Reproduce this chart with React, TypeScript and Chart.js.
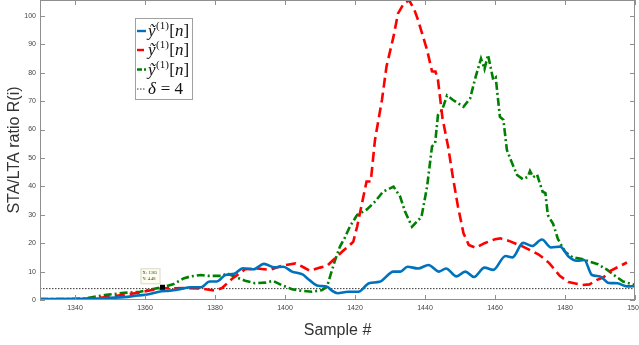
import React, { useEffect, useRef } from 'react';
import { Chart, registerables } from 'chart.js';

Chart.register(...registerables);

// ---------- data ----------
const X_TICKS = [1340, 1360, 1380, 1400, 1420, 1440, 1460, 1480, 1500];
const Y_TICKS = [0, 10, 20, 30, 40, 50, 60, 70, 80, 90, 100];
const X_MIN = 1330;
const X_MAX = 1500;
const Y_MIN = 0;
const Y_MAX = 105.6;

const BLUE_SAMPLES = [1330, 1340, 1348, 1354, 1358, 1361, 1364, 1367, 1370, 1373, 1376, 1378.5, 1380.5, 1383, 1385.5, 1388, 1391, 1394, 1397, 1399.5, 1402, 1405, 1407, 1409.5, 1412, 1413.5, 1415, 1418, 1421, 1424, 1427, 1431, 1433, 1435, 1438, 1441, 1444, 1446, 1449, 1451.5, 1454, 1457, 1459.5, 1463, 1465, 1468, 1470.6, 1473.4, 1476, 1478.6, 1481, 1483.4, 1485.5, 1487.7, 1490, 1492.5, 1495, 1497.7, 1500];
const BLUE_VALUES = [0.3, 0.4, 0.6, 1.0, 1.6, 2.0, 2.9, 3.3, 3.8, 4.5, 4.5, 6.5, 6.5, 8.8, 9.2, 11.2, 10.8, 12.7, 11.5, 11.7, 10.0, 9.0, 7.0, 5.0, 4.7, 3.2, 2.4, 2.9, 2.9, 5.9, 6.4, 10.0, 10.0, 11.7, 11.1, 12.3, 10.0, 11.1, 8.3, 10.0, 8.1, 11.4, 10.6, 15.5, 15.0, 20.1, 19.0, 21.3, 18.5, 18.8, 15.3, 13.8, 14.1, 8.8, 8.3, 6.0, 5.9, 4.8, 4.9];

const RED_SAMPLES = [1330, 1342, 1349, 1354, 1358, 1362, 1365, 1368, 1372, 1376, 1380, 1382, 1385, 1388.6, 1392, 1395.7, 1399, 1403, 1405, 1407, 1410, 1412, 1413.7, 1416.3, 1418, 1419.5, 1420.6, 1423.3, 1424.5, 1425.7, 1427.7, 1429, 1431, 1432.3, 1434, 1435.5, 1437, 1438, 1440.6, 1442, 1443, 1443.7, 1445, 1446.6, 1448, 1449.4, 1451, 1452.5, 1454.5, 1457, 1460, 1461.5, 1464, 1468, 1472.5, 1475.5, 1478.5, 1481, 1485, 1487, 1489, 1491, 1493, 1497.7];
const RED_VALUES = [0.2, 0.3, 1.0, 1.8, 2.5, 3.5, 4.2, 4.1, 4.2, 4.0, 3.3, 4.2, 7.6, 10.8, 11.1, 10.6, 12.0, 12.9, 11.7, 10.3, 11.4, 12.0, 14.0, 17.0, 18.8, 20.5, 25.8, 41.7, 41.7, 56.3, 70.4, 82.2, 92.7, 100.9, 104.5, 105.5, 102, 98.6, 88, 80.5, 80.4, 77.5, 64, 54, 43, 33, 23.5, 19.4, 18.4, 20, 21.4, 21.7, 20.8, 18.8, 16.0, 13, 8.5, 6.3, 5.3, 5.5, 7, 8, 10.3, 13.2];

const GREEN_SAMPLES = [1330, 1342, 1344, 1349, 1354, 1358.6, 1362, 1365, 1368, 1371, 1373, 1376, 1378, 1382, 1383.4, 1385.7, 1388.6, 1391.4, 1394.3, 1396.6, 1399, 1402, 1405, 1407.7, 1410.6, 1412, 1413, 1414.3, 1415.7, 1417, 1418.6, 1420.6, 1423.4, 1425.7, 1428, 1431, 1432.9, 1434.3, 1436.3, 1439, 1440.6, 1442, 1442.9, 1443.7, 1444.9, 1446.3, 1448, 1449.4, 1451, 1452.9, 1454.3, 1456, 1457, 1458, 1459.5, 1460.2, 1461.4, 1462.4, 1463.4, 1464.9, 1466.3, 1468, 1469.4, 1470, 1470.9, 1472, 1473.6, 1474.4, 1475.1, 1476.6, 1478, 1480, 1482.2, 1484.9, 1487, 1489.4, 1492, 1494.3, 1496.6, 1500];
const GREEN_VALUES = [0.3, 0.4, 0.8, 1.8, 2.5, 2.9, 3.8, 4.5, 5.5, 7.6, 8.3, 8.8, 8.5, 8.5, 9.4, 8.2, 6.8, 5.9, 6.1, 6.7, 5.3, 3.8, 3.2, 2.9, 3.5, 4.7, 8.8, 14, 18.8, 21.7, 26.0, 29.9, 31.9, 34.6, 38.1, 39.9, 36.4, 31.1, 25.8, 29.3, 39.9, 54, 55.2, 65.1, 66.9, 72, 70.4, 69.3, 68, 71, 77.8, 85, 81.3, 86.3, 77.5, 78.3, 64.5, 63.4, 52.8, 48.1, 44, 42.5, 43.4, 45.4, 43.2, 44.2, 38.1, 37.6, 29.9, 26.8, 21.4, 17, 15, 14.4, 13.5, 12.6, 10.7, 8.5, 6.5, 5.3];

const THRESHOLD_SAMPLES = [1330, 1500];
const THRESHOLD_VALUE = 4;

const TIP_X = 1365;
const TIP_Y = 4.48;

const Y_TITLE = 'STA/LTA ratio R(i)';
const X_TITLE = 'Sample #';

// legend labels: base, superscript, bracket content
const LEGEND_LABELS = [
  { base: 'ỹ', sup: '(1)', arg: 'n' },
  { base: 'ỹ', sup: '(1)', arg: 'n' },
  { base: 'ỹ', sup: '(1)', arg: 'n' },
  { base: 'δ', sup: '', arg: '' },
];
const THRESHOLD_LABEL_REST = ' = 4';

// ---------- styles ----------
const COLORS = ['#0072BD', '#FF0000', '#008000', '#333333'];
const DASHES: number[][] = [[], [10, 5], [8, 3, 2, 3], [1.5, 1.5]];
const WIDTHS = [2.6, 2.6, 2.6, 1];

const toPoints = (xs: number[], ys: number[]) => xs.map((x, i) => ({ x, y: ys[i] }));

const zeroPad = (s: any) => {
  s.paddingTop = 0;
  s.paddingBottom = 0;
  s.paddingLeft = 0;
  s.paddingRight = 0;
};

const framePlugin = {
  id: 'frame',
  afterDatasetsDraw(chart: any) {
    const { ctx, chartArea, scales } = chart;
    const { left, right, top, bottom } = chartArea;
    const xs = scales.x;
    const ys = scales.y;
    ctx.save();
    // box
    ctx.strokeStyle = '#8f8f8f';
    ctx.lineWidth = 1;
    ctx.setLineDash([]);
    ctx.strokeRect(left + 0.5, top + 0.5, right - left - 1, bottom - top - 1);
    ctx.beginPath();
    X_TICKS.forEach((v) => {
      const px = Math.round(xs.getPixelForValue(v)) + 0.5;
      ctx.moveTo(px, bottom);
      ctx.lineTo(px, bottom - 5);
      ctx.moveTo(px, top);
      ctx.lineTo(px, top + 5);
    });
    Y_TICKS.forEach((v) => {
      const py = Math.round(ys.getPixelForValue(v)) + 0.5;
      ctx.moveTo(left, py);
      ctx.lineTo(left + 5, py);
      ctx.moveTo(right, py);
      ctx.lineTo(right - 5, py);
    });
    ctx.stroke();

    // data tip
    const tx = xs.getPixelForValue(TIP_X);
    const ty = ys.getPixelForValue(TIP_Y);
    ctx.fillStyle = '#000';
    ctx.fillRect(tx - 2.5, ty - 2.5, 5, 5);
    const bx = tx - 22;
    const by = ty - 19;
    ctx.fillStyle = '#fffff0';
    ctx.fillRect(bx, by, 19, 15);
    ctx.strokeStyle = '#d8d8c8';
    ctx.strokeRect(bx + 0.5, by + 0.5, 19, 15);
    ctx.fillStyle = '#333';
    ctx.font = '4.5px "Liberation Serif"';
    ctx.textBaseline = 'middle';
    ctx.textAlign = 'left';
    ctx.fillText('X: ' + TIP_X, bx + 2, by + 5);
    ctx.fillText('Y: ' + TIP_Y.toFixed(2), bx + 2, by + 11);

    // legend
    const lx = 135;
    const ly = 18;
    const lw = 57;
    const lh = 81;
    ctx.fillStyle = '#ffffff';
    ctx.fillRect(lx, ly, lw, lh);
    ctx.strokeStyle = '#a0a0a0';
    ctx.lineWidth = 1;
    ctx.strokeRect(lx + 0.5, ly + 0.5, lw, lh);
    const rowY = [31, 50, 69.5, 89];
    LEGEND_LABELS.forEach((lab, i) => {
      const y = rowY[i];
      ctx.save();
      ctx.strokeStyle = COLORS[i];
      ctx.lineWidth = i === 3 ? 1 : 2.4;
      ctx.setLineDash(i === 1 ? [7, 5] : i === 2 ? [5, 2, 2, 2] : DASHES[i]);
      ctx.beginPath();
      ctx.moveTo(lx + 2, y);
      ctx.lineTo(lx + 11, y);
      ctx.stroke();
      ctx.restore();
      ctx.fillStyle = '#111';
      ctx.textBaseline = 'alphabetic';
      let cx = lx + 13;
      const base = y + 5;
      ctx.font = 'italic 17px "Liberation Serif"';
      ctx.fillText(lab.base, cx, base);
      cx += ctx.measureText(lab.base).width + 0.5;
      if (lab.sup) {
        ctx.font = '11px "Liberation Serif"';
        ctx.fillText(lab.sup, cx, base - 7);
        cx += ctx.measureText(lab.sup).width + 0.5;
        ctx.font = '17px "Liberation Serif"';
        ctx.fillText('[', cx, base);
        cx += ctx.measureText('[').width;
        ctx.font = 'italic 17px "Liberation Serif"';
        ctx.fillText(lab.arg, cx, base);
        cx += ctx.measureText(lab.arg).width;
        ctx.font = '17px "Liberation Serif"';
        ctx.fillText(']', cx, base);
      } else {
        ctx.font = '17px "Liberation Serif"';
        ctx.fillText(THRESHOLD_LABEL_REST, cx, base);
      }
    });
    ctx.restore();
  },
};

export default function App() {
  const canvasRef = useRef<HTMLCanvasElement | null>(null);

  useEffect(() => {
    const canvas = canvasRef.current;
    if (!canvas) return;
    const seriesX = [BLUE_SAMPLES, RED_SAMPLES, GREEN_SAMPLES, THRESHOLD_SAMPLES];
    const seriesY = [BLUE_VALUES, RED_VALUES, GREEN_VALUES, THRESHOLD_SAMPLES.map(() => THRESHOLD_VALUE)];
    const chart = new Chart(canvas, {
      type: 'line',
      data: {
        datasets: seriesX.map((xs, i) => ({
          data: toPoints(xs, seriesY[i]),
          borderColor: COLORS[i],
          borderWidth: WIDTHS[i],
          borderDash: DASHES[i],
          pointRadius: 0,
          fill: false,
          tension: i === 0 ? 0.35 : 0,
          cubicInterpolationMode: i === 0 ? 'monotone' : 'default',
        })) as any,
      },
      options: {
        responsive: false,
        animation: false,
        devicePixelRatio: 1,
        layout: { autoPadding: false, padding: { left: 0, right: 4, top: 0, bottom: 0 } },
        plugins: {
          legend: { display: false },
          tooltip: { enabled: false },
        },
        scales: {
          x: {
            type: 'linear',
            min: X_MIN,
            max: X_MAX,
            grid: { display: false, drawTicks: false },
            border: { display: false },
            afterFit: (s: any) => { s.height = 45; zeroPad(s); },
            afterBuildTicks: (s: any) => { s.ticks = X_TICKS.map((v) => ({ value: v })); },
            ticks: {
              includeBounds: false,
              padding: 4,
              color: '#444',
              font: { family: '"Liberation Sans"', size: 7 },
              maxRotation: 0,
              callback: (v: any) => String(v),
            },
            title: {
              display: true,
              text: X_TITLE,
              color: '#333',
              font: { family: '"Liberation Sans"', size: 16 },
              padding: { top: 0, bottom: 5 },
            },
          },
          y: {
            type: 'linear',
            min: Y_MIN,
            max: Y_MAX,
            grid: { display: false, drawTicks: false },
            border: { display: false },
            afterFit: (s: any) => { s.width = 40; zeroPad(s); },
            afterBuildTicks: (s: any) => { s.ticks = Y_TICKS.map((v) => ({ value: v })); },
            ticks: {
              includeBounds: false,
              padding: 4,
              color: '#444',
              font: { family: '"Liberation Sans"', size: 7 },
              callback: (v: any) => String(v),
            },
            title: {
              display: true,
              text: Y_TITLE,
              color: '#333',
              font: { family: '"Liberation Sans"', size: 16 },
              padding: { top: 5, bottom: 0 },
            },
          },
        },
      },
      plugins: [framePlugin],
    });
    return () => chart.destroy();
  }, []);

  return (
    <div style={{ position: 'fixed', left: 0, top: 0, width: 639, height: 345, background: '#fff' }}>
      <canvas ref={canvasRef} width={639} height={345} style={{ display: 'block', width: 639, height: 345 }} />
    </div>
  );
}
